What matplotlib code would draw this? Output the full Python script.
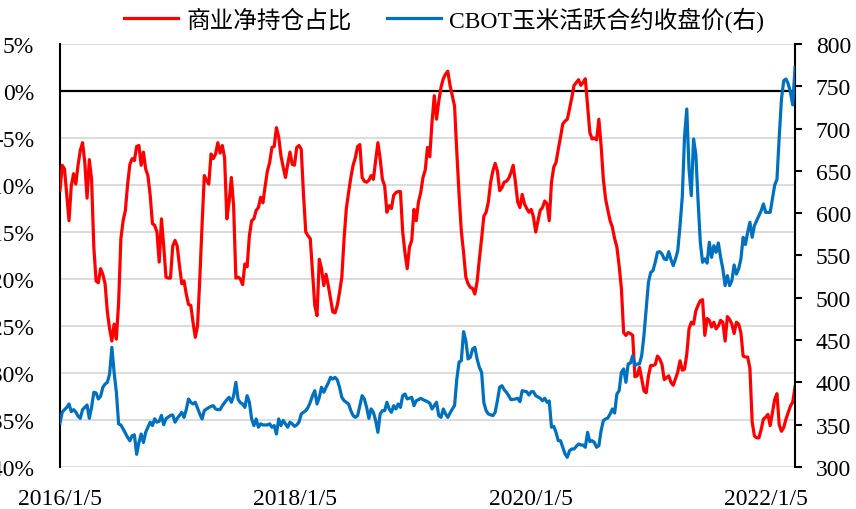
import numpy as np
import pandas as pd
import matplotlib
matplotlib.use("Agg")
import matplotlib.pyplot as plt
from matplotlib.ticker import FuncFormatter, MultipleLocator

plt.rcParams["font.family"] = ["Liberation Serif", "Noto Sans CJK SC"]
plt.rcParams["axes.unicode_minus"] = False

# ---- data -------------------------------------------------------------
start_date = "2016-01-05"          # first weekly report (Tuesday)

# commercial net position as % of open interest, one value per week
net_pct = [
    -10.6, -7.9, -8.3, -11.1, -13.8, -10.1, -8.8, -9.9, -7.9, -6.3,
    -5.5, -7.6, -11.4, -7.3, -9.4, -16.6, -20.2, -20.4, -18.9, -19.5,
    -20.5, -23.5, -25.3, -26.6, -24.8, -26.4, -22.5, -15.7, -13.8, -12.7,
    -9.9, -7.8, -7.2, -7.4, -5.9, -5.8, -7.9, -6.5, -8.3, -9.0,
    -11.1, -14.1, -14.3, -15.0, -18.2, -13.6, -16.5, -19.8, -19.9, -19.9,
    -16.5, -15.9, -16.5, -18.6, -20.5, -20.2, -21.6, -22.7, -22.8, -24.6,
    -26.2, -25.0, -20.0, -14.3, -9.0, -9.5, -9.9, -6.7, -7.2, -6.7,
    -5.5, -6.6, -5.8, -7.1, -13.6, -11.8, -9.2, -12.2, -19.9, -19.8,
    -20.0, -20.6, -18.4, -18.7, -15.4, -13.8, -13.6, -12.7, -12.4, -11.3,
    -11.9, -10.1, -8.5, -7.6, -6.0, -5.9, -3.9, -4.9, -6.9, -8.1,
    -9.2, -7.8, -6.5, -7.8, -7.9, -6.0, -5.8, -6.2, -11.0, -15.0,
    -15.4, -15.7, -19.3, -22.8, -23.9, -17.9, -18.9, -20.7, -19.5, -20.7,
    -22.1, -23.5, -23.6, -22.8, -21.4, -19.8, -15.7, -12.5, -10.8, -9.2,
    -7.9, -7.1, -5.9, -5.7, -9.2, -9.6, -9.7, -9.5, -9.0, -9.4,
    -7.4, -5.5, -7.2, -9.4, -10.1, -12.9, -12.2, -12.5, -11.1, -10.8,
    -10.7, -10.7, -15.0, -17.2, -18.9, -16.6, -15.9, -12.6, -13.8, -11.8,
    -10.8, -9.2, -8.4, -6.0, -7.0, -3.3, -0.5, -3.0, -1.1, 0.4,
    1.3, 1.8, 2.1, 0.6, -0.5, -1.6, -6.5, -11.0, -14.9, -17.2,
    -19.8, -20.5, -20.9, -21.0, -21.6, -20.3, -17.9, -15.7, -13.3, -12.9,
    -11.8, -9.7, -8.5, -7.7, -8.5, -10.6, -10.3, -9.7, -9.6, -9.3,
    -8.7, -7.9, -9.7, -11.8, -12.4, -11.0, -12.0, -12.5, -12.9, -12.6,
    -13.4, -15.0, -13.8, -12.7, -12.4, -11.7, -12.0, -13.8, -9.7, -8.1,
    -7.6, -6.2, -4.9, -3.5, -3.2, -3.0, -1.9, -0.7, 0.6, 0.9,
    1.2, 0.6, 0.9, 1.3, -1.6, -4.4, -5.1, -5.0, -5.2, -3.0,
    -5.8, -9.4, -11.5, -12.7, -13.8, -14.5, -15.7, -16.6, -18.6, -21.0,
    -25.7, -26.0, -25.7, -25.8, -26.0, -30.4, -30.3, -29.4, -30.6, -31.9,
    -32.1, -30.3, -29.2, -29.2, -29.1, -28.2, -28.5, -29.1, -30.7, -30.5,
    -30.3, -31.0, -31.3, -30.6, -29.9, -28.7, -29.7, -29.6, -28.0, -25.3,
    -24.6, -24.8, -23.4, -22.8, -22.3, -22.2, -26.0, -24.2, -24.4, -25.1,
    -24.6, -25.3, -25.0, -24.4, -24.6, -26.6, -24.0, -24.3, -24.8, -25.8,
    -24.6, -24.8, -25.7, -28.2, -28.3, -28.3, -29.5, -35.2, -36.7, -36.9,
    -36.9, -36.0, -34.9, -34.7, -34.4, -35.6, -34.2, -32.8, -32.2, -35.5,
    -36.2, -35.8, -34.9, -34.2, -33.5, -33.1, -31.5,
]

# CBOT corn front-month close (cents/bu): week number since start, price
price_week = [
    0, 1, 3, 4, 5, 6, 7, 8, 9, 10, 11, 12, 13, 14, 15, 16, 17, 18, 19, 20,
    21, 22, 23, 24, 25, 26, 27, 28, 29, 30, 31, 32, 33, 34, 35, 36, 37, 38, 39, 40,
    41, 42, 43, 44, 45, 46, 47, 49, 50, 51, 52, 54, 55, 56, 57, 58, 59, 60, 62, 63,
    64, 65, 67, 68, 69, 70, 71, 72, 74, 75, 76, 77, 78, 79, 80, 81, 82, 83, 84, 85,
    86, 87, 88, 89, 90, 92, 93, 94, 95, 96, 97, 98, 99, 101, 102, 103, 104, 105, 106, 107,
    109, 110, 111, 112, 113, 114, 115, 116, 117, 118, 119, 120, 121, 122, 123, 124, 125, 126, 128, 129,
    130, 131, 132, 134, 135, 136, 137, 138, 139, 140, 141, 142, 143, 144, 145, 146, 147, 148, 149, 150,
    151, 152, 153, 154, 156, 157, 158, 159, 160, 161, 162, 163, 164, 165, 166, 167, 168, 169, 170, 171,
    172, 173, 174, 175, 176, 177, 178, 179, 180, 181, 182, 183, 184, 185, 186, 187, 188, 189, 190, 192,
    193, 194, 195, 196, 197, 198, 199, 200, 202, 203, 204, 205, 207, 208, 209, 210, 211, 213, 214, 215,
    216, 217, 218, 219, 220, 221, 222, 223, 224, 225, 226, 227, 228, 229, 230, 231, 232, 233, 234, 235,
    236, 237, 238, 239, 240, 241, 242, 243, 244, 245, 246, 247, 248, 249, 250, 251, 252, 253, 254, 255,
    256, 257, 258, 259, 260, 261, 262, 263, 264, 265, 266, 267, 268, 269, 270, 271, 272, 273, 274, 275,
    276, 277, 278, 279, 280, 281, 282, 283, 284, 285, 286, 287, 288, 289, 290, 291, 292, 293, 294, 295,
    296, 297, 298, 299, 300, 301, 302, 303, 304, 305, 306, 307, 308, 309, 310, 311, 312, 313, 314, 315,
    316, 317, 318, 319, 320, 321, 322, 323, 324, 325, 326,
]
price = [
    352, 365, 370.5, 374.5, 365.4, 367.8, 365, 360, 357.5, 367.8, 370.5, 373.3, 357.5, 370.5, 388.3, 387.5, 380.4, 383.5, 394.2, 398,
    400, 410, 441.5, 411.9, 388.3, 350.8, 349.7, 345, 340, 335, 331, 337, 338, 315, 329, 339, 329, 341, 347, 353,
    349, 357, 353, 354, 361, 350, 357, 361, 361.5, 353, 357.5, 364.6, 358.7, 367.8, 380.4, 376.5, 374.5, 376.5, 362.7, 356.8,
    366.6, 368.6, 371.7, 372.5, 368.6, 367.8, 367.8, 372.5, 379.6, 382.4, 376.5, 384, 400.1, 380, 376, 374.5, 370.5, 384.3, 376.5, 356.8,
    349, 356.8, 347, 351, 349.7, 349.7, 351, 347, 349, 339, 356.8, 349, 355, 347, 353, 351, 348, 349.7, 353, 362.7,
    366.6, 370.5, 376.5, 384.3, 390.2, 374.5, 382.4, 394.2, 388.3, 394.2, 399.3, 406, 404, 406, 403, 394, 382.4, 378.4, 374.5, 366.6,
    360.7, 358.7, 360.7, 384.3, 380.4, 370.5, 357.5, 368.6, 364.6, 355, 341, 362.7, 366.6, 366.6, 376.5, 368.6, 364.6, 372.5, 368.6, 374.5,
    370.5, 384.3, 386.3, 380.4, 382.4, 372.5, 378.4, 379.6, 381.2, 379.6, 378.4, 377.2, 375.6, 368.6, 372.5, 376.5, 360.7, 358.7, 368.6, 362.7,
    358.7, 363.8, 368.6, 372.5, 404, 424, 425.7, 460, 449.3, 427.7, 429.6, 439.5, 441.5, 427.7, 417.8, 411.9, 376, 366.6, 362.7, 360.7,
    364.6, 378.4, 394.2, 396.1, 391.4, 388.3, 384.3, 379.6, 380.4, 381.2, 377.2, 390.2, 389, 385.1, 389, 389, 384.3, 381.2, 378.4, 381.2,
    376.5, 378, 347, 348.1, 341, 331.1, 331.1, 323.3, 315.4, 311.4, 319.3, 321.3, 321.3, 324.4, 327.2, 326, 326, 323.3, 341, 330,
    331.1, 329.1, 323.3, 325.2, 343, 354.8, 356.8, 358, 362.7, 368.6, 363.8, 386.3, 390.2, 412, 415.9, 400.1, 421.8, 422.8, 431.6, 419.8,
    421.8, 421.8, 431.6, 455.3, 486.8, 518.3, 530, 532.1, 541.9, 553.8, 554.5, 551.8, 545.9, 545.1, 554.5, 545, 538, 545.9, 555.8, 585,
    619, 690, 723.2, 652, 620.7, 687.7, 670, 615, 565.6, 542, 546, 541, 565.6, 547.8, 561.6, 553.8, 564.8, 548, 534.1, 514.4,
    526.2, 514.4, 520.3, 538.8, 528, 534.1, 545.9, 571.5, 563, 577.4, 589.2, 571.5, 585.3, 591.2, 597.1, 603, 610.9, 601, 601, 601,
    616.8, 633.3, 640, 690, 735, 756.7, 758.6, 752.7, 742.9, 728, 772,
]

x_tick_dates = ["2016-01-05", "2018-01-05", "2020-01-05", "2022-01-05"]
x_tick_labels = ["2016/1/5", "2018/1/5", "2020/1/5", "2022/1/5"]
pct_ticks = [5, 0, -5, -10, -15, -20, -25, -30, -35, -40]
price_ticks = [800, 750, 700, 650, 600, 550, 500, 450, 400, 350, 300]

label_net = "商业净持仓占比"
label_price = "CBOT玉米活跃合约收盘价(右)"

# ---- figure -----------------------------------------------------------
t0 = pd.Timestamp(start_date)
net_dates = t0 + pd.to_timedelta(np.arange(len(net_pct)) * 7, unit="D")
price_dates = t0 + pd.to_timedelta(np.array(price_week) * 7, unit="D")

W, H = 856, 510
fig = plt.figure(figsize=(W / 100, H / 100), dpi=100)
ax = fig.add_axes([60 / W, (H - 468) / H, 735 / W, 423 / H])
ax2 = ax.twinx()

FS = 17

ax.set_ylim(-40, 5)
ax.set_yticks(pct_ticks)
ax.yaxis.set_major_formatter(FuncFormatter(lambda v, p: f"{v:.0f}%"))
ax.yaxis.grid(True, color="#d9d9d9", lw=1.3)
ax.set_axisbelow(True)
ax.axhline(0, color="black", lw=1.6, zorder=1.5)

ax.plot(net_dates, net_pct, color="#ff0000", lw=2.3, label=label_net,
        solid_joinstyle="round", zorder=3)
ax2.plot(price_dates, price, color="#0070c0", lw=2.3, label=label_price,
         solid_joinstyle="round", zorder=3)

ax2.set_ylim(300, 800)
ax2.set_yticks(price_ticks)

ax.set_xlim(t0, t0 + pd.Timedelta(weeks=326))
ax.set_xticks(pd.to_datetime(x_tick_dates))
ax.set_xticklabels(x_tick_labels)

for s in ["top", "bottom", "right"]:
    ax.spines[s].set_visible(False)
ax.spines["left"].set_color("black")
ax.spines["left"].set_linewidth(1.5)
for s in ["top", "bottom", "left"]:
    ax2.spines[s].set_visible(False)
ax2.spines["right"].set_color("black")
ax2.spines["right"].set_linewidth(1.5)

ax.tick_params(axis="y", length=0, pad=18.5, labelsize=FS)
ax.tick_params(axis="x", length=0, pad=15, labelsize=FS)
ax2.tick_params(axis="y", direction="out", length=5, width=1.5, pad=10,
                labelsize=FS)

h1, l1 = ax.get_legend_handles_labels()
h2, l2 = ax2.get_legend_handles_labels()
fig.legend(h1 + h2, l1 + l2, loc="center", ncol=2, frameon=False,
           bbox_to_anchor=(444 / W, 1 - 20 / H), fontsize=FS,
           handlelength=2.3, handletextpad=0.35, columnspacing=1.5,
           borderpad=0)

fig.savefig("out.png", dpi=100)
